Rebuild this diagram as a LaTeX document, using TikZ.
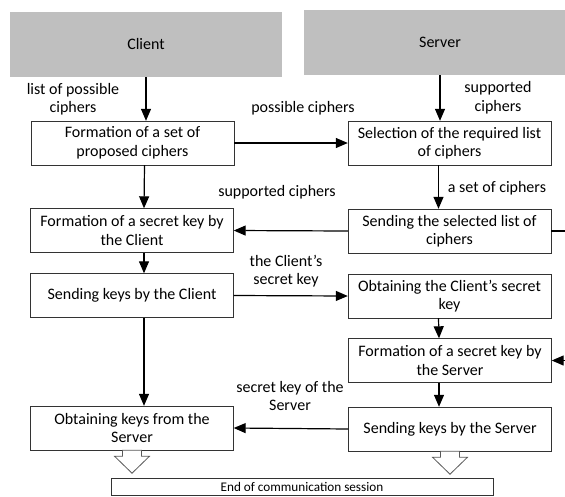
\documentclass[tikz,border=0pt]{standalone}
\usepackage{fontspec}
\setmainfont{Carlito}
\usetikzlibrary{arrows.meta}

\begin{document}
\begin{tikzpicture}[x=1pt, y=-1pt, font=\fontsize{16}{18.5}\selectfont,
  main/.style = {draw=black!80, rectangle, minimum width=203, minimum height=44, align=center, inner sep=2},
  head/.style = {fill=gray!50, rectangle, inner sep=0},
  flow/.style = {line width=1.2pt, -{Triangle[length=12pt,width=10pt]}},
  link/.style = {line width=1.2pt},
  hollow/.style = {draw=gray!70!black, fill=white, line width=0.8pt},
  lbl/.style = {align=center, inner sep=0}]
\useasboundingbox (0,0) rectangle (565,496);

\node[head, minimum width=272, minimum height=65] (client) at (146,44.5) {Client};
\node[head, minimum width=272, minimum height=65] (server) at (440,42.5) {Server};

\node[main] (1) at (132.5,143) {Formation of a set of\\proposed ciphers};
\node[main] (2) at (449.5,143) {Selection of the required list\\of ciphers};
\node[main] (3) at (132,230.5) {Formation of a secret key by\\the Client};
\node[main] (4) at (449.5,231) {Sending the selected list of\\ciphers};
\node[main] (5) at (132,295.5) {Sending keys by the Client};
\node[main] (6) at (449.5,296) {Obtaining the Client's secret\\key};
\node[main] (7) at (450,360.5) {Formation of a secret key by\\the Server};
\node[main] (8) at (450,429) {Sending keys by the Server};
\node[main] (9) at (132,428) {Obtaining keys from the\\Server};
\node[draw=black!80, minimum width=382, inner ysep=4, anchor=north, font=\fontsize{13.2}{16}\selectfont] (end) at (302,478) {End of communication session};

\node[lbl] (l1) at (73,99) {list of possible\\ciphers};
\node[lbl] (l2) at (303,108) {possible ciphers};
\node[lbl] (l3) at (498,97.5) {supported\\ciphers};
\node[lbl] (l4) at (277,192) {supported ciphers};
\node[lbl] (l5) at (497,188) {a set of ciphers};
\node[lbl] (l6) at (286,271) {the Client's\\secret key};
\node[lbl] (l7) at (290,396) {secret key of the\\Server};

\draw[flow] (client.south) -- (client.south |- 1.north);
\draw[flow] (server.south) -- (server.south |- 2.north);
\draw[flow] (1.east) -- (2.west);
\draw[flow] ([xshift=12]1.south) -- ([xshift=12]3.north);
\draw[flow] ([xshift=-11]2.south) -- ([xshift=-11]4.north);
\draw[flow] (4.west) -- (3.east);
\draw[link] (4.east) -- ++(27,0) coordinate (loop);
\draw[flow] (loop) |- (7.east);
\draw[flow] ([xshift=12]3.south) -- ([xshift=12]5.north);
\draw[flow] (5.east) -- (6.west);
\draw[flow] ([xshift=-11]6.south) -- ([xshift=-11]7.north);
\draw[flow] ([xshift=-11]7.south) -- ([xshift=-11]8.north);
\draw[flow] ([xshift=12]5.south) -- ([xshift=12]9.north);
\draw[flow] (8.west) -- (9.east);

\draw[hollow] (9.south) ++(-9.5,0) -- ++(0,6) -- ++(-8,0) -- ++(17.5,17) -- ++(17.5,-17) -- ++(-8,0) -- ++(0,-6) -- cycle;
\draw[hollow] (8.south) ++(-9.5,0) -- ++(0,6) -- ++(-8,0) -- ++(17.5,17) -- ++(17.5,-17) -- ++(-8,0) -- ++(0,-6) -- cycle;

\end{tikzpicture}
\end{document}
